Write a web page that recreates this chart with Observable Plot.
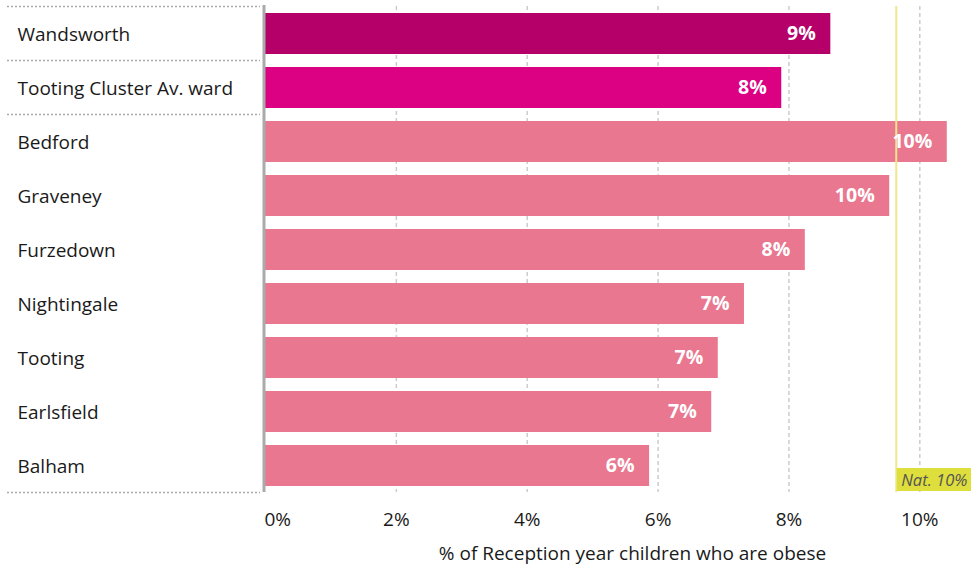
<!DOCTYPE html>
<html>
<head>
<meta charset="utf-8">
<script src="https://cdn.jsdelivr.net/npm/d3@7"></script>
<script src="https://cdn.jsdelivr.net/npm/@observablehq/plot@0.6"></script>
<style>
  html, body { margin: 0; padding: 0; background: #fff; overflow: hidden; }
  #chart svg { display: block; }
</style>
</head>
<body>
<div id="chart"></div>
<script>
const categories = ["Wandsworth", "Tooting Cluster Av. ward", "Bedford", "Graveney", "Furzedown", "Nightingale", "Tooting", "Earlsfield", "Balham"];
const values = [8.64, 7.89, 10.42, 9.54, 8.25, 7.32, 6.92, 6.82, 5.87];
const groups = ["borough", "cluster", "ward", "ward", "ward", "ward", "ward", "ward", "ward"];
const nationalValue = 9.64;
const nationalLabel = "Nat. 10%";
const xTicks = [0, 2, 4, 6, 8, 10];
const xTitle = "% of Reception year children who are obese";
const separatorsAbove = ["Wandsworth", "Tooting Cluster Av. ward", "Bedford"];

const colors = {borough: "#b5006a", cluster: "#dc0082", ward: "#e8778f"};
const data = categories.map((c, i) => ({name: c, value: values[i], group: groups[i]}));
const font = "'Open Sans', 'Noto Sans', sans-serif";
const xMax = 10.79;

const plot = Plot.plot({
  width: 971,
  height: 568,
  marginLeft: 265,
  marginRight: 0,
  marginTop: 6,
  marginBottom: 76,
  style: {fontFamily: font, background: "#fff"},
  x: {domain: [0, xMax], axis: null},
  y: {domain: categories, axis: null, paddingInner: 0.25, paddingOuter: 0.125},
  marks: [
    Plot.ruleX(xTicks.filter(d => d > 0), {stroke: "#cccccc", strokeWidth: 1.5, strokeDasharray: "4,3"}),
    Plot.barX(data, {y: "name", x: "value", fill: d => colors[d.group]}),
    Plot.ruleX([nationalValue], {stroke: "#f0e68c", strokeWidth: 2}),
    Plot.ruleX([0], {stroke: "#aaaaaa", strokeWidth: 3, dx: -1.5, insetTop: -1}),
    Plot.text(data, {
      y: "name", x: "value", text: d => Math.round(d.value) + "%",
      textAnchor: "end", dx: -15, fill: "#fff", fontWeight: "bold", fontSize: 19.5
    }),
    Plot.barX([nationalValue], {
      x1: d => d, x2: () => xMax, y: () => categories[categories.length - 1],
      insetTop: 23, insetBottom: -5, insetLeft: 1, fill: "#dede3c"
    }),
    Plot.text([nationalValue], {
      x: d => d, y: () => categories[categories.length - 1], text: () => nationalLabel,
      textAnchor: "start", dx: 5, dy: 15, fill: "#555", fontStyle: "italic", fontSize: 16.5
    }),
    Plot.text(data, {
      y: "name", frameAnchor: "left", text: "name", textAnchor: "start",
      dx: -248, dy: 1, fill: "#1a1a1a", fontSize: 19
    }),
    Plot.text(xTicks.filter(d => d > 0), {
      x: d => d, frameAnchor: "bottom", dy: 33, text: d => d + "%", fill: "#1a1a1a", fontSize: 19
    }),
    Plot.text(xTicks.filter(d => d === 0), {
      x: d => d, frameAnchor: "bottom", dy: 33, text: d => d + "%", textAnchor: "start", dx: -1, fill: "#1a1a1a", fontSize: 19
    }),
    Plot.text([xTitle], {
      frameAnchor: "bottom", dx: 14, dy: 67, text: d => d, fill: "#1a1a1a", fontSize: 19
    })
  ]
});

// dotted separators in the label column, placed with the plot's y scale
const ys = plot.scale("y");
const step = ys.step, bw = ys.bandwidth;
const half = (step - bw) / 2;
const sepY = separatorsAbove.map(c => ys.apply(c) - half)
  .concat([ys.apply(categories[categories.length - 1]) + bw + half]);
d3.select(plot).append("g")
  .selectAll("line").data(sepY).join("line")
  .attr("x1", 7).attr("x2", 260)
  .attr("y1", d => d).attr("y2", d => d)
  .attr("stroke", "#aaaaaa").attr("stroke-width", 1.5)
  .attr("stroke-dasharray", "2,2");

document.getElementById("chart").appendChild(plot);
</script>
</body>
</html>
